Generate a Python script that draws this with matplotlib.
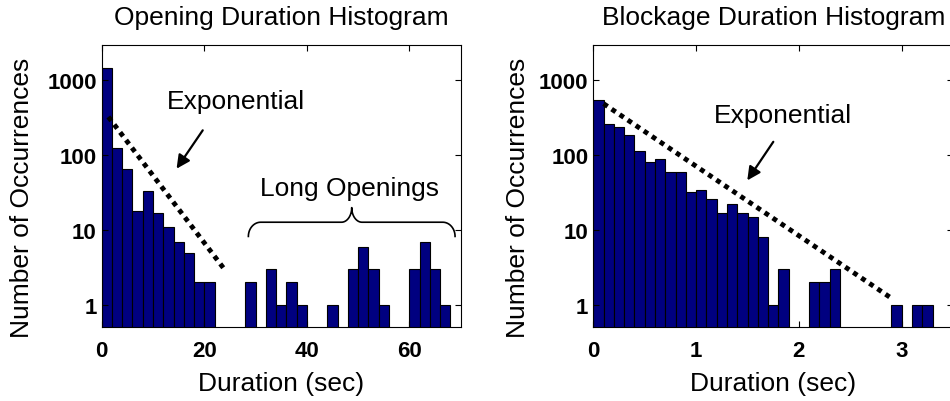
"""
Opening / blockage duration histograms on a log count axis, with the
exponential guide lines and the "Long Openings" brace.
"""

import numpy as np
import matplotlib
matplotlib.use("Agg")
import matplotlib.pyplot as plt
from matplotlib.ticker import NullLocator

plt.rcParams["font.family"] = ["Liberation Sans", "DejaVu Sans"]

# opening durations: 2 s bins starting at 0
open_bin_width = 2.0
open_counts = [1480, 123, 65, 18, 33, 17, 11, 7, 5, 2, 2, 0, 0, 0, 2, 0, 3, 1,
               2, 1, 0, 0, 1, 0, 3, 6, 3, 1, 0, 0, 3, 7, 3, 1, 0]
open_fit_x = [1.3, 23.9]
open_fit_y = [325, 3.0]

# blockage durations: 0.1 s bins starting at 0
block_bin_width = 0.1
block_counts = [540, 260, 240, 185, 114, 80, 88, 59, 59, 32, 34, 26, 17, 22,
                17, 15, 8, 1, 3, 0, 0, 2, 2, 3, 0, 0, 0, 0, 0, 1, 0, 1, 1, 0, 0]
block_fit_x = [0.1, 2.89]
block_fit_y = [488, 1.25]

open_xticks = [0, 20, 40, 60]
block_xticks = [0, 1, 2, 3]
yticks = [1, 10, 100, 1000]
ytick_labels = ["1", "10", "100", "1000"]

BAR_COLOR = "#000080"
W, H = 950, 402


def hist_axes(ax, counts, width, xlim, xticks, title):
    counts = np.asarray(counts, dtype=float)
    left = np.arange(len(counts)) * width
    keep = counts > 0
    ax.bar(left[keep], counts[keep], width=width, align="edge",
           color=BAR_COLOR, edgecolor="black", linewidth=0.8)
    ax.set_yscale("log")
    ax.set_ylim(0.5, 3000)
    ax.set_xlim(*xlim)
    ax.set_yticks(yticks, ytick_labels, fontweight="bold")
    ax.set_xticks(xticks, [str(t) for t in xticks], fontweight="bold")
    ax.yaxis.set_minor_locator(NullLocator())
    ax.xaxis.set_minor_locator(NullLocator())
    ax.tick_params(direction="in", top=True, right=True, length=4, width=0.8,
                   labelsize=16)
    ax.tick_params(axis="y", pad=3.6)
    ax.tick_params(axis="x", pad=9)
    for s in ax.spines.values():
        s.set_linewidth(0.8)
    ax.set_title(title, fontsize=19, pad=15)
    ax.set_xlabel("Duration (sec)", fontsize=19, labelpad=7)


def dotted_fit(ax, xs, ys):
    ax.plot(xs, ys, color="black", linewidth=3.5, linestyle=(0, (1, 1)),
            dash_capstyle="butt")


def arrow(ax, tail, tip):
    ax.annotate("", xy=tip, xytext=tail,
                arrowprops=dict(arrowstyle="-|>", color="black", lw=1.6,
                                mutation_scale=20, shrinkA=0, shrinkB=0))


def brace(ax, x0, x1, y_end, y_flat, y_tip, rx_end, rx_mid):
    # built in log10(y) space so the curve looks right on the log axis
    le, lf, lt = np.log10(y_end), np.log10(y_flat), np.log10(y_tip)
    xm = 0.5 * (x0 + x1)
    t1 = np.linspace(np.pi, np.pi / 2, 20)
    t2 = np.linspace(-np.pi / 2, 0, 20)
    xa = x0 + rx_end + rx_end * np.cos(t1)
    ya = le + (lf - le) * np.sin(t1)
    xb = xm - rx_mid + rx_mid * np.cos(t2)
    yb = lt + (lt - lf) * np.sin(t2)
    xs = np.concatenate([xa, xb, (2 * xm - xb)[::-1], (2 * xm - xa)[::-1]])
    ys = np.concatenate([ya, yb, yb[::-1], ya[::-1]])
    ax.plot(xs, 10 ** ys, color="black", linewidth=1.2)


fig = plt.figure(figsize=(W / 100, H / 100), dpi=100)
bottom = (H - 328.3) / H
height = 282.6 / H
ax1 = fig.add_axes([101.7 / W, bottom, 359.0 / W, height])
ax2 = fig.add_axes([593.3 / W, bottom, 359.8 / W, height])

hist_axes(ax1, open_counts, open_bin_width, (0, 70), open_xticks,
          "Opening Duration Histogram")
hist_axes(ax2, block_counts, block_bin_width, (0, 3.5), block_xticks,
          "Blockage Duration Histogram")

dotted_fit(ax1, open_fit_x, open_fit_y)
dotted_fit(ax2, block_fit_x, block_fit_y)

ax1.text(26.2, 433, "Exponential", fontsize=19, ha="center", va="baseline")
arrow(ax1, (19.7, 215), (14.6, 66))
ax1.text(48.3, 29.3, "Long Openings", fontsize=19, ha="center", va="baseline")
brace(ax1, 28.6, 68.9, 8.2, 12.7, 19.9, 2.4, 2.0)

ax2.text(1.848, 279, "Exponential", fontsize=19, ha="center", va="baseline")
arrow(ax2, (1.751, 151), (1.498, 46))

for x in (22 / W, 518 / W):
    fig.text(x, (H - 197.5) / H, "Number of Occurrences", fontsize=19,
             rotation=90, ha="center", va="center")

fig.savefig("out.png", dpi=100)
print("saved out.png")
